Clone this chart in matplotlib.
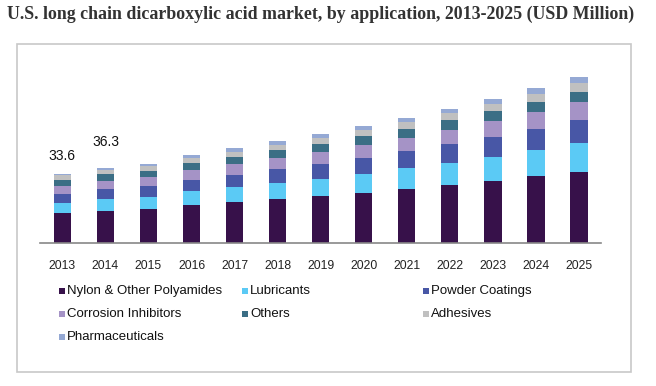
import numpy as np
import matplotlib
matplotlib.use("Agg")
import matplotlib.pyplot as plt
from matplotlib.patches import Rectangle

# Data (USD Million)
years = ["2013", "2014", "2015", "2016", "2017", "2018", "2019",
         "2020", "2021", "2022", "2023", "2024", "2025"]
nylon = [14.6, 15.4, 16.5, 18.4, 19.9, 21.4, 22.8, 24.3, 26.2, 28.2, 30.1, 32.5, 34.5]
lubricants = [4.9, 5.8, 5.8, 6.8, 7.3, 7.8, 8.3, 9.2, 10.2, 10.7, 11.7, 12.6, 14.1]
powder = [4.4, 4.9, 5.3, 5.3, 5.8, 6.8, 7.3, 7.8, 8.3, 9.2, 9.7, 10.2, 11.2]
corrosion = [3.9, 3.9, 4.4, 4.9, 5.3, 5.3, 5.8, 6.3, 6.3, 6.8, 7.8, 8.3, 8.7]
others = [2.9, 3.4, 2.9, 3.4, 3.4, 3.9, 3.9, 4.4, 4.4, 4.9, 4.9, 4.9, 4.9]
adhesives = [2.1, 1.9, 2.4, 2.4, 2.4, 2.4, 2.9, 2.9, 3.4, 3.4, 3.4, 3.9, 4.4]
pharma = [0.8, 1.0, 1.0, 1.5, 1.9, 1.9, 1.9, 1.9, 1.9, 1.9, 2.4, 2.9, 2.9]
labelled = {"2013": "33.6", "2014": "36.3"}

series = [
    ("Nylon & Other Polyamides", nylon, "#37114a"),
    ("Lubricants", lubricants, "#5bcaf5"),
    ("Powder Coatings", powder, "#4857a6"),
    ("Corrosion Inhibitors", corrosion, "#a593c6"),
    ("Others", others, "#3b6e85"),
    ("Adhesives", adhesives, "#c0c0c0"),
    ("Pharmaceuticals", pharma, "#95a9d4"),
]

W, H = 656, 386
fig = plt.figure(figsize=(W / 100, H / 100), dpi=100)
fig.patch.set_facecolor("white")

# outer grey frame
fig.patches.append(Rectangle((17 / W, 1 - 372 / H), (631 - 17) / W, (372 - 44) / H,
                             transform=fig.transFigure, fill=False,
                             edgecolor="#c8c8c8", linewidth=1.2))

fig.text(7 / W, 1 - 14 / H,
         "U.S. long chain dicarboxylic acid market, by application, 2013-2025 (USD Million)",
         family="Liberation Serif", weight="bold", fontsize=12.9, color="#333333",
         ha="left", va="center")

ax = fig.add_axes([40 / W, 1 - 243 / H, (601 - 40) / W, (243 - 60) / H])
x = np.arange(len(years))
bottom = np.zeros(len(years))
for name, vals, col in series:
    ax.bar(x, vals, width=0.4, bottom=bottom, color=col, label=name, linewidth=0)
    bottom += np.array(vals)

for i, yr in enumerate(years):
    if yr in labelled:
        off = 8.5 if yr == "2013" else 12.5
        ax.text(x[i], bottom[i] + off, labelled[yr], ha="center", va="center",
                family="Liberation Sans", fontsize=10, color="#111111")

ax.set_xlim(-0.52, 12.51)
ax.set_ylim(0, 88.8)
ax.set_xticks(x)
ax.set_xticklabels(years, family="Liberation Sans", fontsize=8.8, color="#222222")
ax.tick_params(axis="x", length=0, pad=12)
ax.set_yticks([])
for s in ["top", "right", "left"]:
    ax.spines[s].set_visible(False)
ax.spines["bottom"].set_color("#888888")
ax.spines["bottom"].set_linewidth(1.2)

# legend laid out row by row, three fixed columns
col_x = [62, 245, 426]
row_y = [291, 314, 337]
for k, (name, vals, col) in enumerate(series):
    cx = col_x[k % 3]
    cy = row_y[k // 3]
    fig.patches.append(Rectangle(((cx - 3) / W, 1 - (cy + 3) / H), 6 / W, 6 / H,
                                 transform=fig.transFigure, facecolor=col,
                                 edgecolor="none"))
    fig.text((cx + 5) / W, 1 - cy / H, name, family="Liberation Sans", fontsize=9.5,
             color="#111111", ha="left", va="center")

fig.savefig("out.png", dpi=100, facecolor="white")
